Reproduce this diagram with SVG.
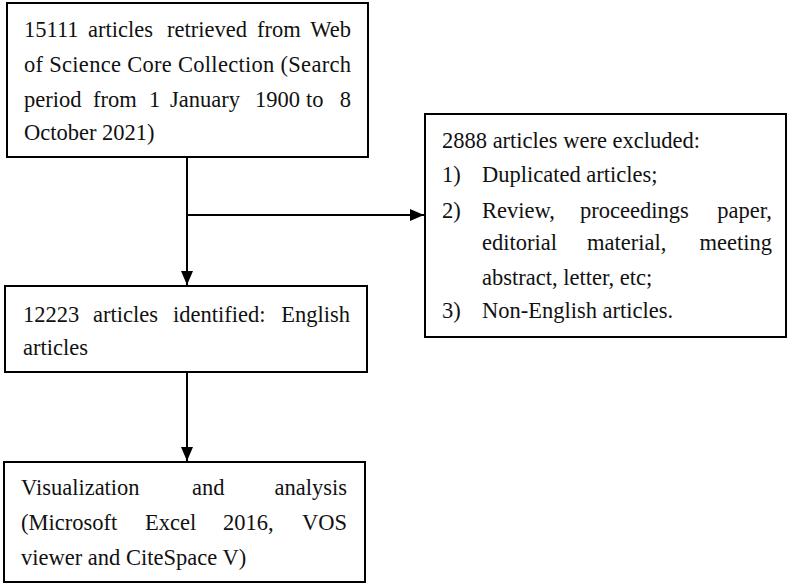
<svg xmlns="http://www.w3.org/2000/svg" width="793" height="586" viewBox="0 0 793 586">
<style>
rect{fill:#fff;stroke:#000;stroke-width:2}
text{font-family:"Liberation Serif","Times New Roman",serif;font-size:22.5px;fill:#111}
.e{text-anchor:end}
line{stroke:#000;stroke-width:2}
</style>
<defs><marker id="a" viewBox="0 0 10 10" refX="10" refY="5" markerWidth="14" markerHeight="12" markerUnits="userSpaceOnUse" orient="auto" preserveAspectRatio="none"><path d="M0,0L10,5L0,10z" fill="#000"/></marker></defs>
<rect width="793" height="586" style="stroke:none"/>
<g id="connectors">
<line x1="187" y1="157" x2="187" y2="285" marker-end="url(#a)"/>
<line x1="187" y1="215" x2="424" y2="215" marker-end="url(#a)"/>
<line x1="187" y1="372" x2="187" y2="461" marker-end="url(#a)"/>
</g>
<g id="n1">
<rect x="7" y="3" width="361" height="154"/>
<text x="24" y="37">15111</text><text x="88" y="37">articles</text><text x="167" y="37">retrieved</text><text x="257" y="37">from</text><text x="351" y="37" class="e">Web</text>
<text x="24" y="72" textLength="327" lengthAdjust="spacing">of Science Core Collection (Search</text>
<text x="24" y="107">period</text><text x="93" y="107">from</text><text x="149" y="107">1</text><text x="170" y="107">January</text><text x="255" y="107">1900</text><text x="306" y="107">to</text><text x="351" y="107" class="e">8</text>
<text x="24" y="140">October 2021)</text>
</g>
<g id="n2">
<rect x="425" y="114" width="361" height="223"/>
<text x="442" y="148">2888 articles were excluded:</text>
<text x="442" y="182">1)</text><text x="482" y="182">Duplicated articles;</text>
<text x="442" y="218">2)</text><text x="482" y="218">Review,</text><text x="580" y="218">proceedings</text><text x="772" y="218" class="e">paper,</text>
<text x="482" y="250">editorial</text><text x="587" y="250">material,</text><text x="772" y="250" class="e">meeting</text>
<text x="482" y="285">abstract, letter, etc;</text>
<text x="442" y="318">3)</text><text x="482" y="318">Non-English articles.</text>
</g>
<g id="n3">
<rect x="5" y="286" width="362" height="86"/>
<text x="23" y="322">12223</text><text x="93" y="322">articles</text><text x="173" y="322">identified:</text><text x="350" y="322" class="e">English</text>
<text x="23" y="355">articles</text>
</g>
<g id="n4">
<rect x="4" y="462" width="361" height="120"/>
<text x="21" y="495">Visualization</text><text x="192" y="495">and</text><text x="347" y="495" class="e">analysis</text>
<text x="21" y="530">(Microsoft</text><text x="145" y="530">Excel</text><text x="223" y="530">2016,</text><text x="347" y="530" class="e">VOS</text>
<text x="21" y="565">viewer and CiteSpace V)</text>
</g>
</svg>
